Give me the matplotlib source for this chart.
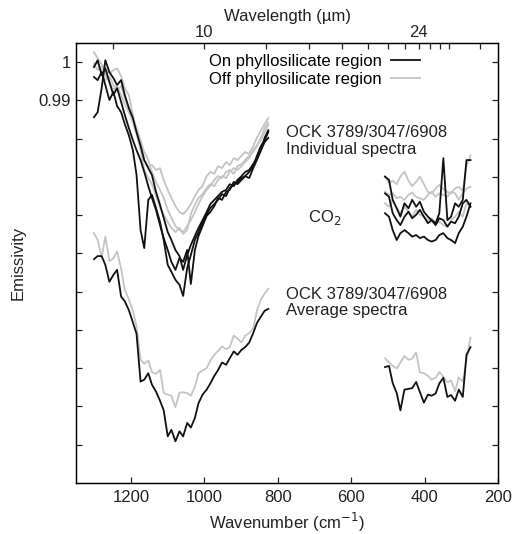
import matplotlib
matplotlib.use("Agg")
import matplotlib.pyplot as plt
from matplotlib.lines import Line2D

plt.rcParams['font.family'] = ['Liberation Sans', 'DejaVu Sans']

# wavenumber grids (cm-1) for the two plotted windows
wn_sw = [1301, 1291, 1280, 1270, 1259, 1248, 1238, 1227, 1217, 1206, 1195, 1185,
         1174, 1164, 1153, 1143, 1132, 1121, 1111, 1100, 1090, 1079, 1068, 1058,
         1047, 1037, 1026, 1016, 1005, 994, 984, 973, 963, 952, 941, 931,
         920, 910, 899, 889, 878, 867, 857, 846, 836, 826]
wn_lw = [508, 497, 487, 476, 466, 455, 444, 434, 423, 413, 402, 391,
         381, 370, 360, 349, 338, 328, 317, 307, 296, 286, 275]

# individual spectra, on phyllosilicate region (black)
on1_sw = [.9856, .9869, .9932, 1.0005, .9974, .9958, .9940, .9953, .9914, .9880,
          .9854, .9817, .9781, .9744, .9723, .9705, .9661, .9627, .9593, .9556,
          .9535, .9509, .9493, .9457, .9496, .9522, .9546, .9567, .9587, .9608,
          .9629, .9640, .9650, .9661, .9666, .9681, .9676, .9692, .9702, .9713,
          .9718, .9734, .9749, .9770, .9791, .9802]
on2_sw = [.9961, .9953, .9974, .9940, .9901, .9922, .9885, .9869, .9838, .9809,
          .9770, .9705, .9561, .9514, .9640, .9653, .9619, .9582, .9535, .9470,
          .9452, .9431, .9418, .9389, .9462, .9496, .9535, .9556, .9582, .9601,
          .9619, .9629, .9640, .9655, .9650, .9671, .9679, .9687, .9697, .9702,
          .9713, .9728, .9755, .9781, .9796, .9817]
on3_sw = [.9987, 1.0005, .9966, .9984, .9948, .9914, .9932, .9896, .9862, .9828,
          .9796, .9770, .9744, .9713, .9676, .9645, .9614, .9574, .9540, .9509,
          .9478, .9457, .9488, .9478, .9509, .9420, .9509, .9546, .9572, .9598,
          .9608, .9624, .9645, .9640, .9661, .9666, .9687, .9681, .9692, .9702,
          .9697, .9723, .9744, .9770, .9802, .9822]
on1_lw = [.9701, .9692, .9640, .9618, .9596, .9631, .9618, .9640, .9622, .9635,
          .9609, .9596, .9587, .9579, .9605, .9749, .9587, .9596, .9631, .9622,
          .9640, .9744, .9744]
on2_lw = [.9657, .9648, .9605, .9587, .9574, .9596, .9609, .9592, .9601, .9614,
          .9596, .9579, .9587, .9574, .9592, .9587, .9570, .9583, .9579, .9596,
          .9631, .9640, .9622]
on3_lw = [.9605, .9596, .9561, .9535, .9553, .9561, .9553, .9544, .9548, .9540,
          .9544, .9535, .9531, .9535, .9548, .9553, .9540, .9535, .9527, .9553,
          .9570, .9596, .9631]

# individual spectra, off phyllosilicate region (grey)
off1_sw = [1.0026, 1.0010, .9995, .9979, .9971, .9979, .9984, .9963, .9932, .9914,
           .9862, .9817, .9791, .9744, .9726, .9731, .9718, .9723, .9692, .9666,
           .9645, .9624, .9608, .9603, .9614, .9629, .9650, .9666, .9676, .9702,
           .9713, .9708, .9728, .9723, .9739, .9731, .9749, .9744, .9755, .9765,
           .9760, .9781, .9802, .9822, .9838, .9854]
off2_sw = [.9992, 1.0000, .9974, .9953, .9963, .9940, .9927, .9937, .9906, .9880,
           .9854, .9828, .9796, .9765, .9744, .9713, .9687, .9666, .9645, .9614,
           .9593, .9572, .9561, .9556, .9572, .9587, .9608, .9629, .9650, .9666,
           .9676, .9692, .9702, .9697, .9713, .9718, .9708, .9728, .9734, .9744,
           .9755, .9765, .9781, .9802, .9828, .9843]
off3_sw = [.9997, .9979, .9990, .9966, .9948, .9927, .9937, .9914, .9890, .9869,
           .9843, .9812, .9770, .9718, .9697, .9681, .9650, .9619, .9601, .9582,
           .9567, .9556, .9567, .9551, .9561, .9603, .9627, .9645, .9655, .9671,
           .9681, .9676, .9692, .9702, .9697, .9713, .9723, .9718, .9728, .9739,
           .9749, .9770, .9783, .9796, .9817, .9836]
off1_lw = [.9699, .9685, .9690, .9681, .9701, .9714, .9690, .9676, .9687, .9701,
           .9681, .9661, .9657, .9670, .9679, .9668, .9661, .9657, .9670, .9674,
           .9664, .9727, .9757]
off2_lw = [.9661, .9653, .9657, .9644, .9648, .9640, .9653, .9659, .9648, .9644,
           .9640, .9653, .9661, .9648, .9657, .9653, .9648, .9661, .9657, .9640,
           .9657, .9670, .9674]
off3_lw = [.9631, .9622, .9640, .9618, .9605, .9622, .9609, .9596, .9614, .9601,
           .9596, .9587, .9592, .9579, .9583, .9574, .9570, .9587, .9596, .9609,
           .9596, .9631, .9622]

# average spectra (offset below the individual ones)
on_avg_sw = [.9485, .9493, .9493, .9470, .9426, .9444, .9457, .9387, .9375, .9352,
             .9320, .9290, .9165, .9170, .9187, .9157, .9139, .9115, .9090, .9022,
             .9039, .9009, .9035, .9022, .9057, .9045, .9070, .9109, .9131, .9144,
             .9160, .9180, .9195, .9215, .9209, .9226, .9244, .9235, .9248, .9255,
             .9267, .9292, .9318, .9335, .9350, .9355]
off_avg_sw = [.9553, .9535, .9490, .9544, .9480, .9487, .9505, .9460, .9405, .9380,
              .9350, .9310, .9222, .9212, .9220, .9190, .9185, .9196, .9135, .9131,
              .9128, .9098, .9136, .9137, .9135, .9128, .9152, .9187, .9194, .9200,
              .9220, .9235, .9245, .9257, .9250, .9255, .9285, .9278, .9267, .9285,
              .9292, .9305, .9350, .9380, .9395, .9408]
on_avg_lw = [.9203, .9206, .9161, .9135, .9090, .9144, .9146, .9148, .9164, .9138,
             .9110, .9131, .9128, .9134, .9160, .9175, .9125, .9130, .9115, .9144,
             .9125, .9235, .9255]
off_avg_lw = [.9226, .9215, .9206, .9200, .9215, .9232, .9222, .9225, .9241, .9189,
              .9187, .9180, .9170, .9175, .9190, .9178, .9163, .9168, .9140, .9176,
              .9165, .9220, .9280]

y_ticks = [0.90, 0.91, 0.92, 0.93, 0.94, 0.95, 0.96, 0.97, 0.98, 0.99, 1.00]
y_labels = ['', '', '', '', '', '', '', '', '', '0.99', '1']
x_ticks = [1200, 1000, 800, 600, 400, 200]
wl_ticks = [8, 10, 12, 14, 16, 18, 20, 22, 24, 26, 28, 30, 40]
wl_labels = ['', '10', '', '', '', '', '', '', '24', '', '', '', '']

black = '#111111'
grey = '#c4c4c4'
txt = '#222222'
lw = 1.3
fs = 12

fig = plt.figure(figsize=(5.12, 5.34), dpi=100)
ax = fig.add_axes([0.1484, 0.0955, 0.8243, 0.824])

for sw, lwv in [(off1_sw, off1_lw), (off2_sw, off2_lw), (off3_sw, off3_lw),
                (off_avg_sw, off_avg_lw)]:
    ax.plot(wn_sw, sw, color=grey, lw=lw)
    ax.plot(wn_lw, lwv, color=grey, lw=lw)
for sw, lwv in [(on1_sw, on1_lw), (on2_sw, on2_lw), (on3_sw, on3_lw),
                (on_avg_sw, on_avg_lw)]:
    ax.plot(wn_sw, sw, color=black, lw=lw)
    ax.plot(wn_lw, lwv, color=black, lw=lw)

ax.set_xlim(1350, 200)
ax.set_ylim(0.89, 1.005)
ax.set_xticks(x_ticks)
ax.set_yticks(y_ticks)
ax.set_yticklabels(y_labels)
ax.tick_params(axis='both', direction='in', length=4, width=0.9, labelsize=fs,
               colors=txt, right=True)
ax.tick_params(axis='x', pad=5)
for s in ax.spines.values():
    s.set_linewidth(1.0)

top = ax.twiny()
top.set_xlim(ax.get_xlim())
top.set_xticks([1e4 / w for w in wl_ticks])
top.set_xticklabels(wl_labels)
top.tick_params(axis='x', direction='in', length=4, width=0.9, labelsize=fs,
                colors=txt, pad=2)
top.set_xlabel('Wavelength (\u00b5m)', fontsize=fs, color=txt, labelpad=3)

ax.set_xlabel('Wavenumber (cm$^{-1}$)', fontsize=fs, color=txt, labelpad=4)
ax.set_ylabel('Emissivity', fontsize=fs, color=txt, labelpad=9)

handles = [Line2D([], [], color=black, lw=lw), Line2D([], [], color=grey, lw=lw)]
ax.legend(handles, ['On phyllosilicate region', 'Off phyllosilicate region'],
          loc='upper right', bbox_to_anchor=(0.85, 1.01), frameon=False,
          markerfirst=False, fontsize=fs, handlelength=1.7, handletextpad=0.6,
          labelspacing=0.2)

ax.text(777, 0.9794, 'OCK 3789/3047/6908\nIndividual spectra', fontsize=fs,
        color=txt, va='center', ha='left', linespacing=1.1)
ax.text(717, 0.9593, 'CO$_2$', fontsize=fs, color=txt, va='center', ha='left')
ax.text(777, 0.9372, 'OCK 3789/3047/6908\nAverage spectra', fontsize=fs,
        color=txt, va='center', ha='left', linespacing=1.1)

fig.savefig('out.png', dpi=100)
